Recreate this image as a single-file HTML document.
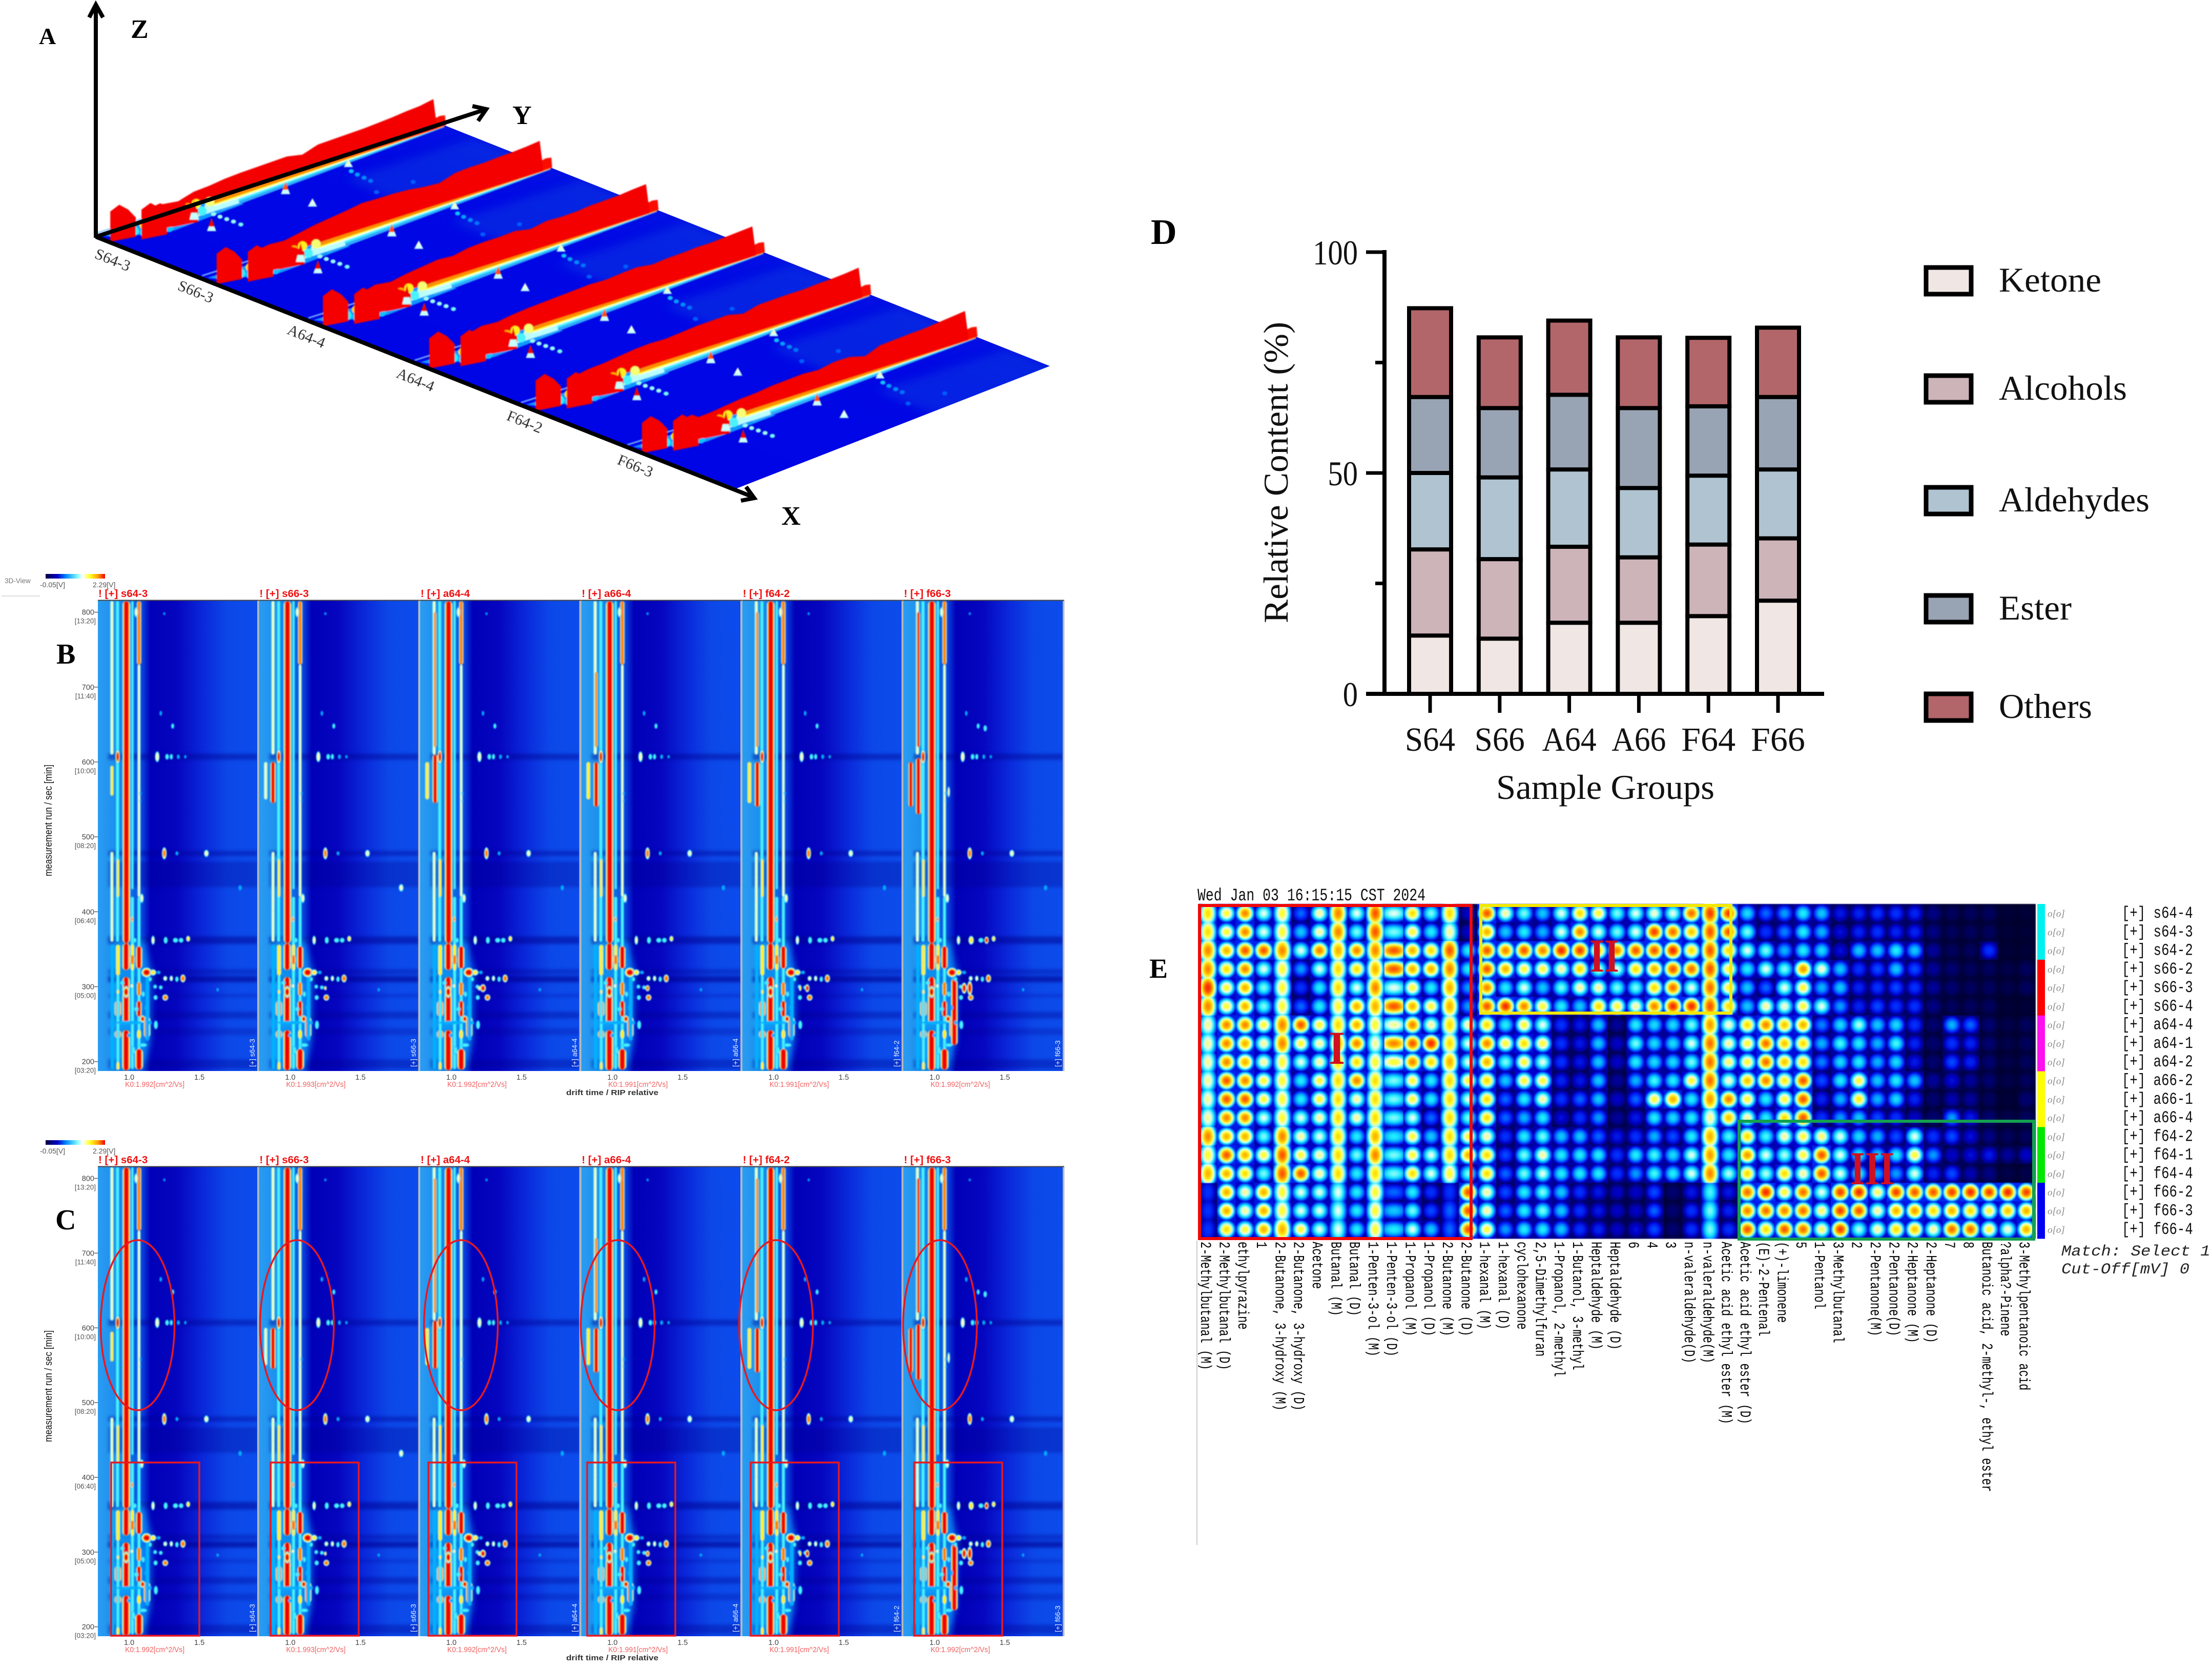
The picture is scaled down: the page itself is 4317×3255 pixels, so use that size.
<!DOCTYPE html>
<html lang="en">
<head>
<meta charset="utf-8">
<title>GC-IMS volatile profile figure</title>
<style>
html,body{margin:0;padding:0;background:#fff;}
svg{display:block;}
.serif{font-family:"Liberation Serif",serif;}
.sans{font-family:"Liberation Sans",sans-serif;}
.mono{font-family:"Liberation Mono",monospace;}
</style>
</head>
<body>
<svg id="figure" xmlns="http://www.w3.org/2000/svg" width="4317" height="3255" viewBox="0 0 4317 3255">
  <defs id="defs">
    <filter id="blurGallery" x="-2%" y="-2%" width="104%" height="104%"><feGaussianBlur stdDeviation="1.4"/></filter>
    <filter id="blurBand" x="-2%" y="-2%" width="104%" height="104%"><feGaussianBlur stdDeviation="3"/></filter>
    <filter id="blurWash" x="-20%" y="-20%" width="140%" height="140%"><feGaussianBlur stdDeviation="7"/></filter>
    <filter id="blurA" x="-5%" y="-5%" width="110%" height="110%"><feGaussianBlur stdDeviation="1.1"/></filter>
    <filter id="blurAwide" x="-20%" y="-20%" width="140%" height="140%"><feGaussianBlur stdDeviation="9"/></filter>
    <filter id="blurHeat" x="-1%" y="-1%" width="102%" height="102%"><feGaussianBlur stdDeviation="0.9"/></filter>
    <clipPath id="planeClip"><polygon id="planeClipShape" points="0,0"/></clipPath>
    <linearGradient id="colorbarGrad" x1="0" x2="1" y1="0" y2="0">
      <stop offset="0" stop-color="#000040"/><stop offset=".2" stop-color="#0000c8"/><stop offset=".35" stop-color="#0090ff"/><stop offset=".55" stop-color="#90ffff"/><stop offset=".62" stop-color="#ffffff"/><stop offset=".75" stop-color="#ffff20"/><stop offset=".88" stop-color="#ffa000"/><stop offset="1" stop-color="#f00000"/>
    </linearGradient>
    <linearGradient id="galleryBg" x1="0" x2="1" y1="0" y2="0">
      <stop offset="0" stop-color="#2a9cf2"/>
      <stop offset=".1" stop-color="#1e90ee"/>
      <stop offset=".2" stop-color="#0f74e8"/>
      <stop offset=".28" stop-color="#0a40dc"/>
      <stop offset=".33" stop-color="#0000b8"/>
      <stop offset=".5" stop-color="#0606c0"/>
      <stop offset=".68" stop-color="#0a2cdc"/>
      <stop offset=".82" stop-color="#0c48e8"/>
      <stop offset="1" stop-color="#0c4cec"/>
    </linearGradient>
    <linearGradient id="planeGrad" x1="0" x2="1" y1="1" y2="0">
      <stop offset="0" stop-color="#0000e8"/><stop offset=".6" stop-color="#0008e4"/><stop offset="1" stop-color="#0a30e0"/>
    </linearGradient>
  </defs>
  <rect width="4317" height="3255" fill="#fff"/>

  <g id="panelA"></g>
  <g fill="none" stroke="#000" stroke-width="8" stroke-linejoin="miter">
    <line x1="187" y1="464" x2="187" y2="10"/>
    <polyline points="174,34 187,9 201,34"/>
    <line x1="187" y1="462" x2="946" y2="214"/>
    <polyline points="922,207 949,213 933,236"/>
    <line x1="187" y1="462" x2="1470" y2="970"/>
    <polyline points="1456,950 1472,972 1446,977"/>
  </g>
  <g class="serif" font-weight="bold" fill="#000">
    <text x="76" y="86" font-size="46">A</text>
    <text x="255" y="74" font-size="52">Z</text>
    <text x="1000" y="242" font-size="52">Y</text>
    <text x="1525" y="1024" font-size="52">X</text>
    <text x="110" y="1295" font-size="56">B</text>
    <text x="108" y="2399" font-size="56">C</text>
    <text x="2246" y="476" font-size="70">D</text>
    <text x="2243" y="1908" font-size="54">E</text>
  </g>

  <g id="panelB"></g>
  <g id="panelC"></g>
  <g id="panelD"></g>
  <g id="panelE"></g>
</svg>
<script>
/* ---------- Panel D data ---------- */
const barGroups = ["S64","S66","A64","A66","F64","F66"];
const ketone    = [13.2,12.5,16.1,16.1,17.6,21.1];
const alcohols  = [19.5,18.0,17.2,14.8,16.2,14.1];
const aldehydes = [17.3,18.5,17.5,15.7,15.6,15.6];
const ester     = [17.2,15.7,16.9,18.1,15.7,16.4];
const others    = [20.1,16.0,16.8,16.0,15.5,15.7];
const barTicks  = [0,50,100];
const barMinorTicks = [25,75];
const legendNames = ["Ketone","Alcohols","Aldehydes","Ester","Others"];

/* ---------- Panel E data (one array per compound, 18 samples, 0-10 signal scale) ---------- */
const rowNames = ["s64-4","s64-3","s64-2","s66-2","s66-3","s66-4","a64-4","a64-1","a64-2","a66-2","a66-1","a66-4","f64-2","f64-1","f64-4","f66-2","f66-3","f66-4"];
const compoundNames = ["2-Methylbutanal (M)","2-Methylbutanal (D)","ethylpyrazine","1","2-Butanone, 3-hydroxy (M)","2-Butanone, 3-hydroxy (D)","Acetone","Butanal (M)","Butanal (D)","1-Penten-3-ol (M)","1-Penten-3-ol (D)","1-Propanol (M)","1-Propanol (D)","2-Butanone (M)","2-Butanone (D)","1-hexanal (M)","1-hexanal (D)","cyclohexanone","2,5-Dimethylfuran","1-Propanol, 2-methyl","1-Butanol, 3-methyl","Heptaldehyde (M)","Heptaldehyde (D)","6","4","3","n-valeraldehyde(D)","n-valeraldehyde(M)","Acetic acid ethyl ester (M)","Acetic acid ethyl ester (D)","(E)-2-Pentenal","(+)-limonene","5","1-Pentanol","3-Methylbutanal","2","2-Pentanone(M)","2-Pentanone(D)","2-Heptanone (M)","2-Heptanone (D)","7","8","Butanoic acid, 2-methyl-, ethyl ester","?alpha?-Pinene","3-Methylpentanoic acid"];
const c00=[7.5,7.5,8.5,8.5,9.5,8.5,6.5,6.5,6.5,6.5,6.5,6.5,8.5,7,8,3,3,3];
const c01=[7,7,8,7.5,7,7,8.5,8.5,8.5,9,9,8.5,8,9,8,8,8,7.5];
const c02=[8.5,8.5,9,8.5,8,8,8.5,8,8,8.5,9,8.5,8,8,7.5,6.5,6.5,7];
const c03=[6,6,9,6,5.5,5.5,7,6.5,6.5,7,7,6,5.5,7,5.5,8,8,8];
const c04=[7,7,8.5,7,7,7,8.5,8.5,7,7,7,7,8.5,9,9,7,7,8];
const c05=[3.5,4.5,6,4,3,3.5,9,7,6,5,5,6,6.5,7,9,6,6,7];
const c06=[6.5,6.5,8.5,6,5,5,7,6.5,6.5,7,7,6.5,6,6.5,6.5,6,6,6];
const c07=[8.5,8.5,8,7.5,7.5,7,7.5,8,7.5,7.5,7.5,7.5,7.5,7.5,7.5,6,6,6];
const c08=[6,5.5,8.5,7.5,6,8,8,8.5,7.5,8.5,6.5,6.5,5,5.5,5,5,5,5];
const c09=[9,9,8.5,8,8.5,8,7,6.5,7,7.5,7.5,7.5,8,8.5,7.5,7,7,7];
const c10=[6,5.5,9,9,6,9,6.5,8.5,7,5.5,5.5,5.5,5,5.5,5.5,3.5,4.5,5];
const c11=[7.5,7,8,8,7,8,8.5,9,8.5,7,7,6,7,7,7.5,5,5.5,6];
const c12=[5.5,5,7.5,8,5,7,6.5,9.5,7.5,5,5,3.5,4.5,6,6,3,3.3,4.5];
const c13=[7.5,6.5,9,8.5,8,8,7.5,7.5,8,7.5,7.5,7.5,7.5,7.5,7,3,3.5,3.5];
const c14=[2,2,5,5,4,4,6.5,6,6,7,6,5.5,7,8,5.5,9,9,9];
const c15=[9,8,9,9,8.5,9,7.5,8.5,8,7.5,7.5,7.5,6.5,7.5,7.5,6.5,6.5,7];
const c16=[6.5,4.5,8.5,8,5,9.5,5,7,5.5,4.5,3.5,3.5,3,3.3,3.5,3.2,3.5,4];
const c17=[5.5,5,9,7,6,8.5,7,7.5,7,7,5,4.2,5,5.5,5.5,5,5,5];
const c18=[4.5,4.3,8.5,7,4.5,7,6,7,6,7,6.5,5,5.5,6.5,6,5.5,5.5,5];
const c19=[6,6,9.5,6.5,5.5,5,3,3,3,2.7,3,2.2,4.5,5,5,4.5,4.5,4.5];
const c20=[7.5,8.5,9.2,7.5,6.5,4.5,2.5,2.5,2.5,2.5,3.5,3,4.5,5,5,3,3,3];
const c21=[7,6,7.5,6,6.5,7.5,4.5,4.5,4.5,4.5,4.5,4,3.5,5,5,2.5,2.5,2.8];
const c22=[5.5,5.5,8.5,6,5.5,7,1.5,2,2,1.5,2,1.5,2.5,3,3,2,2,2];
const c23=[6,6,9,7.5,5.5,6.5,5,5.5,5,4.3,3.5,2.5,3,5,4,2,2,2.3];
const c24=[6.3,9.3,9,8,7.5,8.5,4.8,4.8,4.7,5.2,7,5,4.3,5.2,5.2,3.2,3.4,3.2];
const c25=[6,8.7,9.5,9,8.7,9.5,4.7,4.7,4.7,5,8,4.8,3.2,4.8,5,1,1,1];
const c26=[8.7,7.7,7.5,8.7,6,9.5,5.5,6,5.5,7,5,5,5,6,6,2.5,3,3];
const c27=[9.3,9,9,9,8.7,9,8.3,8.7,8.7,8.7,8.3,6.5,8,8.3,8.5,5.2,5.5,5.5];
const c28=[9.3,9,7.5,7,7,7.5,6.2,6.5,6.7,6.2,8.5,7.8,5.2,5,5.8,2.5,2.8,3];
const c29=[4.8,5.5,6,5,4.5,4.5,7.5,7,7,7.8,7,6.5,7.5,8.3,7.5,8.8,8.5,9];
const c30=[3.5,3,5.5,6,3.5,6.5,8.5,8.7,8.7,8.5,5,5,5.2,6,5.7,9.5,8.7,7.5];
const c31=[4,3.7,4.3,5.5,6,6.2,7.7,7.7,7.7,7.3,7,7.5,6.5,5.8,7.5,7,8.5,9];
const c32=[5,5,5,8.3,7,7,8,7.5,7.5,9,9,9,7,7,6.5,8.7,8.7,8.7];
const c33=[4.5,4.2,4.8,6.2,4.2,6,3.8,4.2,3.8,3.2,2.8,3,6.7,9,9,6,6.7,6.7];
const c34=[2.5,2.3,2.2,4.5,4.5,4,4.7,5.2,4.7,5,4.2,4,6,6,6,9.3,9.3,9.3];
const c35=[2.8,2.8,4.5,3,2.7,2.8,5.7,5,4.9,7,7.2,4.5,4.8,5,5,9.5,9,5.8];
const c36=[3,3,4.5,3.3,3,3.3,4.5,4.2,4.2,4.5,4.3,3.2,4.3,4.5,4,6.8,6.5,6.5];
const c37=[3,2.7,5,4.5,3.2,3,4.8,5.2,4.8,5,4.7,3,3.3,5,4,9.2,8,7.5];
const c38=[2.8,2.8,4.5,3.3,3,3,3,2.8,2.5,4.5,2.8,2,6,7,6,9,8.3,7.8];
const c39=[1.3,1.3,1.4,1.5,1.5,1.2,1,1,1,1.5,1,1,3,4,2.8,9,7.5,6.5];
const c40=[0.7,0.7,0.7,1,1,0.7,4.3,3,3.2,2.3,1.7,4,3.2,2,3.2,9.3,8,8.8];
const c41=[0.7,0.7,0.7,0.7,0.7,0.7,3.5,2.8,2.7,1.5,1.5,2.5,2.3,2.2,1.8,9.5,7.5,8.7];
const c42=[0.7,0.7,3,0.8,0.7,0.7,1,1,1,1,0.8,1,1.2,2.5,1.2,9.3,7,7];
const c43=[0.3,0.3,0.3,0.5,0.5,0.3,0.5,0.5,0.5,0.5,0.3,0.5,0.7,1.5,0.5,9.5,7.7,6.3];
const c44=[0.3,0.3,0.3,0.7,0.7,0.3,0.7,0.7,0.7,0.7,1,0.7,0.7,2,0.5,9.2,8,8];
const heatColumns=[c00,c01,c02,c03,c04,c05,c06,c07,c08,c09,c10,c11,c12,c13,c14,c15,c16,c17,c18,c19,c20,c21,c22,c23,c24,c25,c26,c27,c28,c29,c30,c31,c32,c33,c34,c35,c36,c37,c38,c39,c40,c41,c42,c43,c44];
const tallPeakColumns=[0,4,7,9,13,27];
const widePeakColumns=[10];

/* ---------- Panel B / C data (drift time, retention s, intensity 0-1) ---------- */
const gallerySamples = ["s64-3","s66-3","a64-4","a66-4","f64-2","f66-3"];
const galleryK0 = ["1.992","1.993","1.992","1.991","1.991","1.992"];
const retentionTicks = [800,700,600,500,400,300,200];
const retentionClock = ["13:20","11:40","10:00","08:20","06:40","05:00","03:20"];
const driftTicks = ["1.0","1.5"];
/* [retention, span s, darkness] */
const darkBands = [[607,8,.42],[478,7,.4],[450,34,.3],[362,10,.5],[320,7,.32],[310,8,.6],[288,5,.22],[262,9,.35],[240,9,.25],[197,12,.35]];
/* [drift, retention top, retention bottom, intensity, drift width] */
const sharedStreaks = [
 [.877,815,610,.66,.03],[.877,480,360,.62,.03],[.917,815,360,.6,.03],[.98,815,358,1,.058],
 [1.023,815,430,.52,.026],[1.07,815,730,.92,.034],[1.07,730,420,.62,.028],[1.023,420,190,.58,.03],[1.07,420,190,.58,.03],
 [.88,356,190,.46,.04],[.92,356,315,.78,.036],[.92,281,260,1,.05],[.92,242,231,1,.05],[.92,315,190,.56,.03],[.92,199,189,.74,.03],
 [.978,358,322,1,.056],[.978,313,251,1,.056],[.978,242,188,1,.06],
 [1.023,356,322,.72,.034],[1.023,342,330,.97,.036],[1.07,354,324,1,.048],[1.07,306,288,.9,.036],[1.07,281,260,1,.04],[1.07,242,231,.8,.036],[1.07,217,189,1,.06],
 [1.127,260,232,1,.05],[1.13,320,228,.5,.04],[.92,470,420,.75,.026],[.877,450,400,.7,.026]
];
/* [drift, retention, intensity, drift width, retention span] */
const sharedSpots = [
 [1.05,800,.66,.03,16],[1.15,798,.38,.02,6],[1.25,798,.44,.025,6],[1.32,798,.4,.022,6],
 [1.225,665,.5,.025,9],[1.31,648,.56,.028,9],[1.23,645,.38,.02,6],[1.38,648,.34,.03,6],[1.67,648,.3,.04,6],
 [.918,607,1,.03,18],[1.2,607,.68,.035,16],[1.27,607,.55,.035,10],[1.3,607,.54,.03,10],[1.35,607,.48,.03,9],[1.4,607,.42,.03,8],[1.55,607,.4,.05,8],[1.08,607,.38,.02,8],[1.15,607,.38,.03,8],
 [1.16,568,.34,.02,8],[1.08,558,.5,.02,8],[1.08,548,.42,.02,7],
 [1.25,478,.86,.033,16],[1.34,478,.48,.03,8],[1.55,478,.64,.04,11],[1.15,495,.36,.02,7],[1.79,432,.42,.04,12],
 [1.09,418,.66,.03,14],[1.22,415,.36,.025,6],[1.02,390,.86,.02,9],
 [1.17,362,.64,.03,14],[1.26,362,.6,.035,11],[1.33,362,.6,.045,8],[1.37,362,.6,.04,8],[1.42,364,.8,.03,8],[1.04,362,.6,.03,8],
 [1.124,319,1,.07,12],[1.17,319,.72,.05,9],[1.21,319,.48,.04,7],[1.15,310,.55,.03,8],
 [1.257,311,.62,.035,8],[1.3,311,.62,.03,9],[1.34,310,.6,.03,9],[1.383,311,.96,.036,10],
 [1.185,300,.56,.035,7],[1.225,299,.56,.035,7],[1.63,296,.42,.03,8],[1.83,298,.38,.03,7],
 [1.188,285.5,.6,.036,8],[1.257,285.5,.94,.04,8],
 [1.096,257,1,.036,9],[1.19,249,.6,.035,14],[1.15,252,.5,.03,8],[1.0,252,.5,.26,6],
 [.978,293,1,.042,14],[.92,293,.8,.024,7],[1.02,301,.62,.03,8],[1.03,215,.6,.03,14],[1.1,222,.58,.07,6],
 [.95,305,.55,.04,7],[1.05,270,.54,.04,8],[1.1,290,.56,.03,10],[1.12,272,.5,.03,10],[1.0,235,.5,.04,7]
];
const extraS643 = [[.877,595,555,.76,.028]];
const extraS663 = [[.825,600,550,.62,.034],[.877,600,545,1,.04]];
const extraA644 = [[.828,600,550,.76,.034],[.884,610,545,1,.04],[.884,800,620,.86,.024]];
const extraA664 = [[.828,600,550,.76,.034],[.884,600,540,1,.04],[.884,720,620,.9,.024]];
const extraF642 = [[.828,600,545,.76,.034],[.884,600,540,1,.04],[.884,800,620,.9,.024]];
const extraF663 = [[.83,600,540,1,.036],[.884,605,530,1,.04],[.884,800,620,1,.026],[1.14,310,222,1,.05]];
const galleryExtras = [extraS643,extraS663,extraA644,extraA664,extraF642,extraF663];
const spotsS643 = [];
const spotsS663 = [[1.79,432,.62,.04,12],[1.25,298,.8,.02,6]];
const spotsA644 = [[1.225,298,1,.04,10],[1.2,298,.72,.03,7]];
const spotsA664 = [[1.25,298,.96,.03,8]];
const spotsF642 = [[1.19,298,.8,.02,8],[1.24,298,1,.03,10]];
const spotsF663 = [[1.37,362,1,.03,9],[1.26,362,.78,.04,12],[1.21,298,1,.035,14],[1.25,298,1,.035,18],[1.36,645,.6,.03,10],[1.1,560,.7,.02,16]];
const gallerySpots = [spotsS643,spotsS663,spotsA644,spotsA664,spotsF642,spotsF663];

/* ---------- Panel A data ---------- */
const ridgeNames = ["S64-3","S66-3","A64-4","A64-4","F64-2","F66-3"];
const ridgeTimes = [.14,.185,.23,.275,.32,.365,.41,.455,.5,.545,.59,.635,.68,.725,.77,.81,.85,.89,.93,.97];
const ridgeS643 = [10,20,16,25,27,31,33,34,35,36,30,40,41,42,43,45,47,50,52,57];
const ridgeS663 = [18,24,22,28,34,38,42,47,46,46,44,40,38,48,50,50,52,53,55,58];
const ridgeA644 = [20,28,24,30,34,38,36,42,44,44,46,40,46,45,46,49,50,51,54,56];
const ridgeA664 = [22,30,28,33,36,38,40,42,44,43,46,48,44,47,48,50,50,52,54,56];
const ridgeF642 = [22,28,30,34,38,40,39,42,45,46,47,40,48,49,50,50,52,53,55,58];
const ridgeF663 = [10,14,16,20,24,26,30,32,34,32,38,38,30,42,44,46,47,50,53,56];
const ridgeHeights = [ridgeS643,ridgeS663,ridgeA644,ridgeA664,ridgeF642,ridgeF663];
/* secondary ridge along the run: [along-run position, signal height] */
const shoulderProfile = [[.4,5],[.6,8],[.8,13],[.95,18],[.985,22],[1,20]];
/* [lateral offset, along-run offset, signal height, intensity] */
const smallPeaks = [[.424,.196,25,1],[.247,.465,24,.9],[.523,.458,16,.6],[.154,.676,14,.62],[.2,.215,38,1]];
/* [lateral offset, along-run offset, intensity] */
const smallDots = [[.21,.268,.56],[.27,.268,.56],[.33,.269,.56],[.39,.27,.56],[.459,.27,.54],[.22,.664,.44],[.29,.66,.4],[.36,.658,.38],[.428,.656,.36],[.6,.62,.34],[.62,.72,.34]];
/* [lateral offset, along-run offset, intensity] */
const clusterBlotches = [[.1,.16,.66],[.16,.2,.55],[.2,.14,.52],[.1,.25,.56],[.14,.22,.7],[.06,.2,.95],[.17,.1,.5],[.08,.14,1],[.19,.18,.5],[.22,.2,.48],[.13,.28,.58],[.06,.24,.8],[.09,.19,1],[.12,.18,.72],[.04,.27,.72],[.16,.25,.52],[.1,.1,.75],[.14,.06,.5],[.2,.07,.46],[.07,.3,.66],[.24,.13,.44],[.13,.14,.95],[.18,.22,.7],[.15,.17,.5]];

/* ---------- helpers ---------- */
const NS = 'http://www.w3.org/2000/svg';
function el(tag, attrs, parent){
  const e = document.createElementNS(NS, tag);
  for (const k in attrs) e.setAttribute(k, attrs[k]);
  parent.appendChild(e);
  return e;
}
const cmStops = [[0,[0,0,40]],[.1,[0,0,112]],[.2,[0,0,200]],[.3,[0,48,255]],[.4,[0,160,255]],[.5,[32,240,255]],[.6,[232,255,240]],[.7,[255,255,32]],[.8,[255,176,0]],[.9,[255,80,0]],[1,[240,0,0]]];
function cm(v){
  v = Math.max(0, Math.min(1, v));
  for (let i = 1; i < cmStops.length; i++){
    if (v <= cmStops[i][0]){
      const a = cmStops[i-1], b = cmStops[i], t = (v - a[0]) / (b[0] - a[0]);
      return 'rgb(' + a[1].map((c, j) => Math.round(c + (b[1][j] - c) * t)).join(',') + ')';
    }
  }
  return 'rgb(240,0,0)';
}
const defs = document.getElementById('defs');

/* ---------- Panel A ---------- */
function project(s, t, z){
  return [193 + 207.5 * s + 673 * t, 458 + 82.5 * s - 214 * t - (z || 0)];
}
function pts(list){ return list.map(p => p[0].toFixed(1) + ',' + p[1].toFixed(1)).join(' '); }
(function(){
  const root = document.getElementById('panelA');
  const planePts = pts([project(0,-.01),project(0,1),project(5.7,1),project(6,0)]);
  document.getElementById('planeClipShape').setAttribute('points', planePts);
  const plane = el('polygon', {points: planePts, fill:'url(#planeGrad)'}, root);
  
  
  const shade = el('g', {'clip-path':'url(#planeClip)'}, root);
  
  
  ridgeHeights.forEach((heights, s) => {
    const halo = el('polygon', {points: pts([project(s+.3,.62),project(s+.95,.62),project(s+.95,1),project(s+.3,1)]), fill:'#0a48e0', opacity:.4, filter:'url(#blurAwide)'}, shade);
    
    
  });
  const marks = el('g', {filter:'url(#blurA)'}, root);
  ridgeHeights.forEach((heights, s) => {
    const g = el('g', {}, marks);
    
    
    const edge = el('line', {x1:project(s-.03,0)[0], y1:project(s-.03,0)[1], x2:project(s-.03,.26)[0], y2:project(s-.03,.26)[1], stroke:'#80c0ff', 'stroke-width':2.5}, g);
    
    
    /* near-end wash */
    const wash = el('polygon', {points: pts([project(s+.02,.0),project(s+.02,.3),project(s+.2,.36),project(s+.26,.14),project(s+.12,.02)]), fill:'#1098ff'}, g);
    
    
    /* rainbow shoulder */
    const strips = [[.17,'#30a8ff',9],[.13,'#40f0ff',7],[.1,'#f0fff0',6],[.075,'#ffff30',6],[.05,'#ff9000',7]];
    strips.forEach(st => {
      const a = project(s + st[0], .3), b = project(s, 1);
      const l = el('line', {x1:a[0], y1:a[1], x2:b[0], y2:b[1], stroke:st[1], 'stroke-width':st[2]}, g);
      
      
    });
    /* second, lower ridge reaching the far edge */
    const shoulderTop = shoulderProfile.map(p => project(s + .012, p[0], p[1]));
    const shoulderBase = shoulderProfile.slice().reverse().map(p => project(s + .02, p[0], 1));
    const sec = el('polygon', {points: pts(shoulderTop.concat(shoulderBase)), fill:'#f81000'}, g);
    
    
    /* main reactant ion ridge */
    const top = ridgeTimes.map((t, i) => project(s, t, heights[i]));
    const bottom = ridgeTimes.slice().reverse().map(t => project(s + .035, t, 2));
    const ridge = el('polygon', {points: pts(top.concat(bottom)), fill:'#f40000'}, g);
    
    
    const a1 = project(s + .144, .149), b1 = project(s + .14, .362);
    const cl = el('line', {x1:a1[0], y1:a1[1], x2:b1[0], y2:b1[1], stroke:'#b8ffff', 'stroke-width':9}, g);
    
    
    clusterBlotches.forEach(b => {
      const p = project(s + b[0], b[1]);
      const dot = el('ellipse', {cx:p[0], cy:p[1] - 6, rx:9, ry:9, fill:cm(b[2])}, g);
      
      
    });
    [[.033,.06,78],[.132,.12,76],[.06,.17,48],[.1,.22,36]].forEach(b => {
      const p = project(s + b[0], b[1]);
      const w = 25;
      const block = el('polygon', {points: pts([[p[0]-w,p[1]+24],[p[0]-w,p[1]-b[2]*.45],[p[0]-w*.3,p[1]-b[2]*.62],[p[0]+w*.4,p[1]-b[2]*.5],[p[0]+w,p[1]-b[2]*.3],[p[0]+w,p[1]+14]]), fill:'#f40000'}, g);
      
      
    });
    smallPeaks.forEach(pk => {
      const base = project(s + pk[0], pk[1]), tip = project(s + pk[0], pk[1], pk[2]);
      const tri = el('polygon', {points: pts([[base[0]-9,base[1]],[tip[0],tip[1]],[base[0]+9,base[1]]]), fill:'#c8ffff'}, g);
      
      
      const cap = el('polygon', {points: pts([[base[0]-6,base[1]-pk[2]*.35],[tip[0],tip[1]],[base[0]+6,base[1]-pk[2]*.35]]), fill:cm(pk[3])}, g);
      
      
    });
    smallDots.forEach(d => {
      const p = project(s + d[0], d[1]);
      const dot = el('ellipse', {cx:p[0], cy:p[1], rx:5, ry:4, fill:cm(d[2])}, g);
      
      
    });
  });
  const labelAt = [[220,507],[382,569],[598,656],[811,741],[1024,823],[1240,909]];
  ridgeNames.forEach((n, i) => {
    const t = el('text', {x:labelAt[i][0], y:labelAt[i][1] + 10, 'text-anchor':'middle', 'font-size':30, fill:'#333', transform:'rotate(22 ' + labelAt[i][0] + ' ' + labelAt[i][1] + ')', class:'serif'}, root);
    
    
    t.textContent = n;
  });
})();

/* ---------- Panels B & C ---------- */
const panelWidth = 311;
function panelLeft(i){ return 191 + 314.4 * i; }
function driftX(i, d){ return panelLeft(i) + (d - 0.777) * 274; }
function drawGallery(rootId, top, bottom, annotate){
  const root = document.getElementById(rootId);
  const retY = r => top + (815.5 - r) * (bottom - top) / (815.5 - 187.4);
  const pxPerSec = (bottom - top) / (815.5 - 187.4);
  gallerySamples.forEach((name, i) => {
    const g = el('g', {}, root);
    
    
    const x0 = panelLeft(i);
    const clipId = rootId + 'clip' + i;
    const clip = el('clipPath', {id:clipId}, defs);
    el('rect', {x:x0, y:top, width:panelWidth, height:bottom - top}, clip);
    const inner = el('g', {'clip-path':'url(#' + clipId + ')'}, g);
    const bg = el('rect', {x:x0, y:top, width:panelWidth, height:bottom - top, fill:'url(#galleryBg)'}, inner);
    
    
    const bands = el('g', {filter:'url(#blurBand)'}, inner);
    darkBands.forEach(b => {
      const r = el('rect', {x:x0 + 20, y:retY(b[0] + b[1] / 2), width:panelWidth - 20, height:b[1] * pxPerSec, fill:'#000090', opacity:b[2]}, bands);
      
      
    });
    const lowWash = el('polygon', {points:pts([[driftX(i,.89),retY(365)],[driftX(i,1.1),retY(365)],[driftX(i,1.16),retY(320)],[driftX(i,1.15),retY(225)],[driftX(i,1.1),retY(190)],[driftX(i,.89),retY(190)]]), fill:'#10a8ff', opacity:.65, filter:'url(#blurWash)'}, inner);
    
    
    const marks = el('g', {filter:'url(#blurGallery)'}, inner);
    const layers = [.42,.52,.62,.72,.85,1];
    sharedStreaks.concat(galleryExtras[i]).forEach(s => {
      layers.filter(v => v <= s[3] + .01).forEach(v => {
        const w = (s[4] * 274) * (1.35 - 0.8 * v / s[3]);
        const h = retY(s[2]) - retY(s[1]);
        const rect = el('rect', {x:driftX(i, s[0]) - w / 2, y:retY(s[1]), width:w, height:h, rx:w / 2, fill:cm(v)}, marks);
        
        
      });
    });
    sharedSpots.concat(gallerySpots[i]).forEach(s => {
      layers.filter(v => v <= s[2] + .01).forEach(v => {
        const f = 1.35 * 1.1 - 0.9 * v / s[2];
        const sp = el('ellipse', {cx:driftX(i, s[0]), cy:retY(s[1]), rx:s[3] * 274 / 2 * f, ry:s[4] * pxPerSec / 2 * f, fill:cm(v)}, marks);
        
        
      });
    });
    const side = el('text', {x:0, y:0, transform:'translate(' + (x0 + 306) + ',' + (bottom - 8) + ') rotate(-90)', 'font-size':14, fill:'#e8f0ff', class:'sans'}, g);
    
    
    side.textContent = '[+] ' + name;
    const sep = el('rect', {x:x0 + panelWidth, y:top, width:3.4, height:bottom - top, fill:'#b8b8b8'}, g);
    
    
    const topLine = el('rect', {x:x0, y:top - 1.5, width:panelWidth + 3, height:2, fill:'#444'}, g);
    
    
    const title = el('text', {x:x0 + 1, y:top - 7, 'font-size':20.5, 'font-weight':'bold', fill:'#f01010', class:'sans'}, g);
    
    
    title.textContent = '! [+] ' + name;
    driftTicks.forEach(tk => {
      const lab = el('text', {x:driftX(i, parseFloat(tk)), y:bottom + 17, 'text-anchor':'middle', 'font-size':14.5, fill:'#444', class:'sans'}, g);
      
      
      lab.textContent = tk;
    });
    const k0 = el('text', {x:driftX(i, 1.0) + 50, y:bottom + 31, 'text-anchor':'middle', 'font-size':14.5, fill:'#f06060', class:'sans', textLength:116, lengthAdjust:'spacingAndGlyphs'}, g);
    
    
    k0.textContent = 'K0:' + galleryK0[i] + '[cm^2/Vs]';
    if (annotate){
      const ellX = [196,507,827,1133,1442,1762][i];
      const rectX = [217,528,836,1146,1465,1784][i];
      const ell = el('ellipse', {cx:ellX + 72.5, cy:2586, rx:72, ry:166, fill:'none', stroke:'#e81820', 'stroke-width':3.5}, g);
      
      
      const box = el('rect', {x:rectX, y:2854, width:172, height:338, fill:'none', stroke:'#e81820', 'stroke-width':3.5}, g);
      
      
    }
  });
  retentionTicks.forEach((r, i) => {
    const t = el('text', {x:184, y:retY(r) + 5, 'text-anchor':'end', 'font-size':14.5, fill:'#444', class:'sans'}, root);
    
    
    t.textContent = r;
    const c = el('text', {x:187, y:retY(r) + 22, 'text-anchor':'end', 'font-size':13.5, fill:'#555', class:'sans'}, root);
    
    
    c.textContent = '[' + retentionClock[i] + ']';
    const tk = el('line', {x1:184, x2:191, y1:retY(r), y2:retY(r), stroke:'#666', 'stroke-width':1.5}, root);
    
    
  });
  const midY = (top + bottom) / 2 - 30;
  const yt = el('text', {x:0, y:0, transform:'translate(101,' + midY + ') rotate(-90)', 'text-anchor':'middle', 'font-size':20, fill:'#111', class:'sans', textLength:218, lengthAdjust:'spacingAndGlyphs'}, root);
  
  
  yt.textContent = 'measurement run / sec [min]';
  const xt = el('text', {x:1195, y:bottom + 47, 'text-anchor':'middle', 'font-size':15, 'font-weight':'bold', fill:'#333', class:'sans', textLength:180, lengthAdjust:'spacingAndGlyphs'}, root);
  
  
  xt.textContent = 'drift time / RIP relative';
  const cbY = top - 52;
  const cb = el('rect', {x:89, y:cbY, width:116, height:9, fill:'url(#colorbarGrad)'}, root);
  
  
  const lo = el('text', {x:78, y:cbY + 26, 'font-size':14, fill:'#555', class:'sans'}, root);
  
  
  lo.textContent = '-0.05[V]';
  const hi = el('text', {x:181, y:cbY + 26, 'font-size':14, fill:'#555', class:'sans'}, root);
  
  
  hi.textContent = '2.29[V]';
}
drawGallery('panelB', 1172, 2090, false);
drawGallery('panelC', 2277, 3193, true);
(function(){
  const root = document.getElementById('panelB');
  const t = el('text', {x:9, y:1138, 'font-size':13.5, fill:'#777', class:'sans'}, root);
  
  
  t.textContent = '3D-View';
  const l = el('line', {x1:3, x2:78, y1:1163, y2:1163, stroke:'#ddd', 'stroke-width':2}, root);
  
  
})();

/* ---------- Panel D ---------- */
(function(){
  const root = document.getElementById('panelD');
  const yVal = v => 1354 - v * 8.62;
  const xBar = i => 2791 + i * 135.8;
  const seriesList = [ketone, alcohols, aldehydes, ester, others];
  const fills = ['#f0e6e4','#cdb4b9','#afc3d0','#98a3b3','#b2666a'];
  barGroups.forEach((name, i) => {
    let acc = 0;
    seriesList.forEach((series, j) => {
      const y1 = yVal(acc), y2 = yVal(acc + series[i]);
      const r = el('rect', {x:xBar(i) - 41, y:y2, width:82, height:y1 - y2, fill:fills[j], stroke:'#000', 'stroke-width':8}, root);
      
      
      acc += series[i];
    });
    const tk = el('line', {x1:xBar(i), x2:xBar(i), y1:1354, y2:1391, stroke:'#000', 'stroke-width':7}, root);
    
    
    const lab = el('text', {x:xBar(i), y:1465, 'text-anchor':'middle', 'font-size':66, fill:'#111', class:'serif', textLength:name[0] === 'S' ? 98 : 106, lengthAdjust:'spacingAndGlyphs'}, root);
    
    
    lab.textContent = name;
  });
  const axisY = el('line', {x1:2702, x2:2702, y1:yVal(100) - 4, y2:1358, stroke:'#000', 'stroke-width':8}, root);
  
  
  const axisX = el('line', {x1:2666, x2:3560, y1:1354, y2:1354, stroke:'#000', 'stroke-width':8}, root);
  
  
  barTicks.forEach(v => {
    const t = el('line', {x1:2666, x2:2702, y1:yVal(v), y2:yVal(v), stroke:'#000', 'stroke-width':7}, root);
    
    
    const s = String(v);
    const lab = el('text', {x:2650, y:yVal(v) + 24, 'text-anchor':'end', 'font-size':68, fill:'#111', class:'serif', textLength:s.length * 29.3, lengthAdjust:'spacingAndGlyphs'}, root);
    
    
    lab.textContent = s;
  });
  barMinorTicks.forEach(v => {
    const t = el('line', {x1:2684, x2:2702, y1:yVal(v), y2:yVal(v), stroke:'#000', 'stroke-width':7}, root);
    
    
  });
  const yt = el('text', {x:0, y:0, transform:'translate(2513,922) rotate(-90)', 'text-anchor':'middle', 'font-size':68, fill:'#111', class:'serif', textLength:588, lengthAdjust:'spacingAndGlyphs'}, root);
  
  
  yt.textContent = 'Relative Content (%)';
  const xt = el('text', {x:3133, y:1559, 'text-anchor':'middle', 'font-size':68, fill:'#111', class:'serif', textLength:426, lengthAdjust:'spacingAndGlyphs'}, root);
  
  
  xt.textContent = 'Sample Groups';
  const legendY = [548,759,977,1188,1380];
  const legendW = [200,250,294,142,182];
  legendNames.forEach((n, i) => {
    const swatch = el('rect', {x:3759, y:legendY[i] - 26, width:88, height:52, fill:fills[i], stroke:'#000', 'stroke-width':9}, root);
    
    
    const t = el('text', {x:3901, y:legendY[i] + 21, 'font-size':68, fill:'#111', class:'serif', textLength:legendW[i], lengthAdjust:'spacingAndGlyphs'}, root);
    
    
    t.textContent = n;
  });
})();

/* ---------- Panel E ---------- */
(function(){
  const root = document.getElementById('panelE');
  const cellW = 36.3, cellH = 36.28;
  const colX = c => 2339 + c * cellW;
  const rowY = r => 1764 + r * cellH;
  const made = {};
  function gradFor(v, shape){
    const lvl = Math.round(v * 4) / 4;
    const id = 'hg' + String(lvl).replace('.', '_') + shape;
    if (!made[id]){
      made[id] = 1;
      const attrs = {id:id, cx:.5, cy:.5, r:.52};
      if (shape === 't') attrs.gradientTransform = 'translate(0 .5) scale(1 1.55) translate(0 -.5)';
      if (shape === 'w') attrs.gradientTransform = 'translate(.5 0) scale(1.8 1) translate(-.5 0)';
      const gr = el('radialGradient', attrs, defs);
      const k = .3;
      [0,.15,.3,.45,.6,.75,.9,1].forEach(t => {
        const val = (lvl / 10) * (1 - (1 - k) * Math.pow(t, 2));
        el('stop', {offset:t, 'stop-color':cm(val)}, gr);
      });
    }
    return 'url(#' + id + ')';
  }
  const cells = el('g', {filter:'url(#blurHeat)'}, root);
  
  
  heatColumns.forEach((col, c) => {
    const shape = tallPeakColumns.indexOf(c) >= 0 ? 't' : (widePeakColumns.indexOf(c) >= 0 ? 'w' : 'n');
    col.forEach((v, r) => {
      const cell = el('rect', {x:colX(c), y:rowY(r), width:cellW + .4, height:cellH + .4, fill:gradFor(v, shape)}, cells);
      
      
    });
  });
  const date = el('text', {x:0, y:0, transform:'translate(2337,1757) scale(1,1.3)', 'font-size':26.5, fill:'#111', class:'mono'}, root);
  
  
  date.textContent = 'Wed Jan 03 16:15:15 CST 2024';
  compoundNames.forEach((n, c) => {
    const x = colX(c) + cellW / 2 - 5;
    const t = el('text', {x:0, y:0, transform:'translate(' + x + ',2423) rotate(90) scale(1,1.35)', 'font-size':22, 'dominant-baseline':'central', fill:'#000', class:'mono'}, root);
    
    
    t.textContent = n;
  });
  const groupColors = ['#00f0f0','#ff0000','#ff10f0','#ffff00','#00e800','#0000f0'];
  rowNames.forEach((n, r) => {
    const y = rowY(r);
    const bar = el('rect', {x:3976, y:y, width:15, height:cellH + .4, fill:groupColors[Math.floor(r / 3)]}, root);
    
    
    const z = el('text', {x:3996, y:y + 25, 'font-size':19, 'font-style':'italic', fill:'#888', class:'serif'}, root);
    
    
    z.textContent = 'o[o]';
    const t = el('text', {x:0, y:0, transform:'translate(4141,' + (y + 27) + ') scale(1,1.25)', 'font-size':25.7, fill:'#111', class:'mono'}, root);
    
    
    t.textContent = '[+] ' + n;
  });
  const frames = [[2341,1767,530,650,'#f00808','region-i-frame'],[2890,1767,488,210,'#f4e800','region-ii-frame'],[3394,2188,575,230,'#14a050','region-iii-frame']];
  frames.forEach(f => {
    const r = el('rect', {x:f[0], y:f[1], width:f[2], height:f[3], fill:'none', stroke:f[4], 'stroke-width':6}, root);
    
    
  });
  const marks = [[2609,2076,'I',32],[3131,1896,'II',58],[3654,2311,'III',86]];
  marks.forEach(m => {
    const t = el('text', {x:m[0], y:m[1], 'text-anchor':'middle', 'font-size':92, 'font-weight':'bold', fill:'#d01020', class:'serif', textLength:m[3], lengthAdjust:'spacingAndGlyphs'}, root);
    
    
    t.textContent = m[2];
  });
  const rule = el('line', {x1:2336, x2:2336, y1:2421, y2:3015, stroke:'#ccc', 'stroke-width':2}, root);
  
  
  const match = el('text', {x:4023, y:2450, 'font-size':30, 'font-style':'italic', fill:'#222', class:'mono', textLength:310, lengthAdjust:'spacingAndGlyphs'}, root);
  
  
  match.textContent = 'Match: Select 1.';
  const cut = el('text', {x:4023, y:2485, 'font-size':30, 'font-style':'italic', fill:'#222', class:'mono', textLength:250, lengthAdjust:'spacingAndGlyphs'}, root);
  
  
  cut.textContent = 'Cut-Off[mV] 0';
})();
</script>
</body>
</html>
